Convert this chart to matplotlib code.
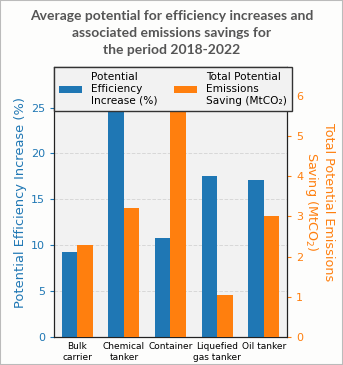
import matplotlib
matplotlib.use('Agg')
import matplotlib.pyplot as plt
import numpy as np

ship_types = ["Bulk\ncarrier", "Chemical\ntanker", "Container", "Liquefied\ngas tanker", "Oil tanker"]
efficiency = [9.2, 24.5, 10.8, 17.5, 17.1]
emissions = [2.28, 3.2, 5.6, 1.05, 3.0]

blue = '#1f77b4'
orange = '#ff7f0e'

fig = plt.figure(figsize=(3.43, 3.65), dpi=100, facecolor='#fdfdfc')
fig.patches.append(plt.Rectangle((0, 0), 1, 1, transform=fig.transFigure,
                                 fill=False, edgecolor='#bbbbbb', linewidth=1.5))
ax = fig.add_axes([0.157, 0.077, 0.68, 0.739])
ax.set_facecolor('#f2f2f2')
ax2 = ax.twinx()

x = np.arange(len(ship_types))
w = 0.33
b1 = ax.bar(x - w/2, efficiency, w, color=blue, label='Potential\nEfficiency\nIncrease (%)', zorder=3)
b2 = ax2.bar(x + w/2, emissions, w, color=orange, label='Total Potential\nEmissions\nSaving (MtCO\u2082)', zorder=3)

ax.set_xlim(-0.5, 4.5)
ax.set_ylim(0, max(efficiency) * 1.2)
ax2.set_ylim(0, max(emissions) * 1.2)
ax.set_xticks(x)
ax.set_xticklabels(ship_types, fontsize=6.5)
ax.tick_params(axis='x', length=0, pad=4)
ax.tick_params(axis='y', colors=blue, labelsize=8, length=3)
ax2.tick_params(axis='y', colors=orange, labelsize=8, length=3)
for s in ['left', 'right', 'bottom', 'top']:
    ax2.spines[s].set_color('#222222')
ax.yaxis.grid(True, linestyle='--', color='#d8d8d8', linewidth=0.7, zorder=0)
ax.set_axisbelow(True)

ax.set_ylabel('Potential Efficiency Increase (%)', color=blue, fontsize=9.4, labelpad=3)
ax2.set_ylabel('Total Potential Emissions\nSaving (MtCO$_2$)', color=orange, fontsize=9.2,
               rotation=270, labelpad=23)

ax2.legend([b1, b2], [b1.get_label(), b2.get_label()], ncol=2, loc='upper left',
           fontsize=7.6, frameon=True, fancybox=False, edgecolor='#333333',
           framealpha=1, facecolor='#f2f2f2', handlelength=2.2, columnspacing=1.6,
           borderaxespad=0.0, borderpad=0.5)

fig.text(0.5, 0.972, 'Average potential for efficiency increases and\nassociated emissions savings for\nthe period 2018-2022',
         ha='center', va='top', fontsize=10, fontweight='bold', color='#555555',
         family='Lato', linespacing=1.5)

fig.savefig('out.png', dpi=100, facecolor=fig.get_facecolor())
